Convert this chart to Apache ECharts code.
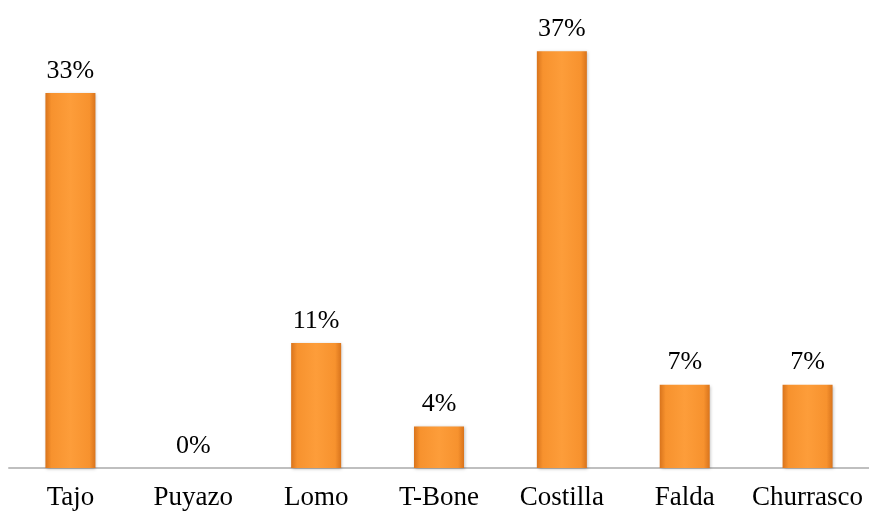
<!DOCTYPE html>
<html>
<head>
<meta charset="utf-8">
<script src="https://cdn.jsdelivr.net/npm/echarts@6/dist/echarts.min.js"></script>
<style>
  html, body { margin: 0; padding: 0; background: #ffffff; }
  #chart { width: 869px; height: 511px; }
</style>
</head>
<body>
<div id="chart"></div>
<script>
// categorias y porcentajes
var categories = ['Tajo', 'Puyazo', 'Lomo', 'T-Bone', 'Costilla', 'Falda', 'Churrasco'];
var percentValues = [33.33, 0, 11.11, 3.70, 37.04, 7.41, 7.41];

var chart = echarts.init(document.getElementById('chart'));

var barColor = new echarts.graphic.LinearGradient(0, 0, 1, 0, [
    { offset: 0, color: '#d9741c' },
    { offset: 0.12, color: '#f7922e' },
    { offset: 0.5, color: '#fd9d3a' },
    { offset: 0.88, color: '#f7922e' },
    { offset: 1, color: '#d9741c' }
]);

var option = {
    animation: false,
    grid: { left: 9, right: -3, top: 18, bottom: 43 },
    xAxis: {
        type: 'category',
        data: categories,
        axisLine: { lineStyle: { color: '#bfbfbf', width: 2 } },
        axisTick: { show: false },
        axisLabel: {
            interval: 0,
            hideOverlap: false,
            color: '#000',
            fontFamily: 'Liberation Serif',
            fontSize: 27,
            margin: 16
        }
    },
    yAxis: {
        type: 'value',
        min: 0,
        max: 40,
        show: false,
        splitLine: { show: false }
    },
    series: [{
        type: 'bar',
        data: percentValues,
        barWidth: 50,
        itemStyle: {
            color: barColor,
            shadowColor: 'rgba(0,0,0,0.25)',
            shadowBlur: 3,
            shadowOffsetX: 1,
            shadowOffsetY: 1
        },
        label: {
            show: true,
            position: 'top',
            distance: 9,
            color: '#000',
            fontFamily: 'Liberation Serif',
            fontSize: 26,
            formatter: function (p) { return Math.round(p.value) + '%'; }
        }
    }]
};

chart.setOption(option);
</script>
</body>
</html>
